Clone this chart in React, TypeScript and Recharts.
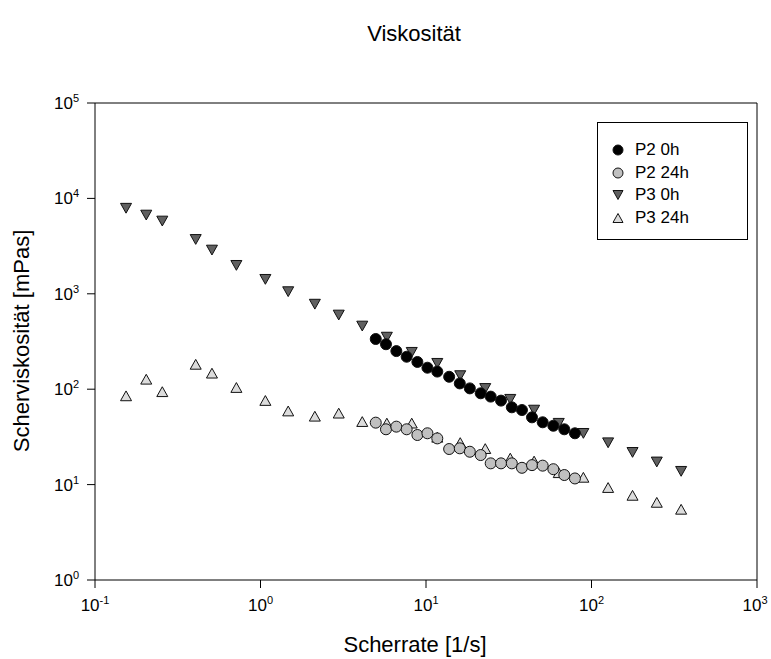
import { ScatterChart, Scatter, XAxis, YAxis, ReferenceLine } from "recharts";

const FONT = '"Liberation Sans", Arial, sans-serif';

// P3 shear rates and viscosities
const p3Rate = [0.154, 0.204, 0.255, 0.406, 0.509, 0.715, 1.07, 1.47, 2.13, 2.97, 4.12, 5.8, 8.2, 11.7, 16.1, 22.8, 32.3, 45, 63.4, 89.3, 126, 177, 248, 348];
const p3Visc0h = [7900, 6700, 5800, 3720, 2880, 1990, 1420, 1055, 780, 600, 460, 352, 244, 187, 139, 102, 78.5, 60.5, 44, 34.5, 27.5, 21.8, 17.3, 13.8];
const p3Visc24h = [85, 127, 94, 182, 147, 104, 76, 59, 52, 56, 45.7, 44, 44, 31.3, 27.5, 23.8, 18.9, 17.6, 13.3, 11.9, 9.3, 7.7, 6.5, 5.5];

// P2 shear rates and viscosities
const p2Rate = [4.97, 5.73, 6.62, 7.64, 8.87, 10.2, 11.7, 13.8, 16.0, 18.4, 21.4, 24.6, 28.4, 33, 38, 43.7, 50.7, 58.8, 68.5, 79.4];
const p2Visc0h = [336, 296, 251, 219, 193, 168, 153, 135, 115, 102, 90.6, 83.6, 75.9, 64.6, 60.5, 50.7, 45, 41.4, 38, 34.5];
const p2Visc24h = [44.6, 38, 40.5, 38, 33.1, 34.5, 30.5, 23.6, 24, 22.1, 20.4, 16.7, 16.7, 16.7, 15, 16, 15.8, 14.5, 12.6, 11.6];

const xTicks = [0.1, 1, 10, 100, 1000];
const yTicks = [1, 10, 100, 1000, 10000, 100000];
const seriesNames = ["P2 0h", "P2 24h", "P3 0h", "P3 24h"];

const zip = (xs: number[], ys: number[]) => xs.map((x, i) => ({ x, y: ys[i] }));

const circle = (fill: string) => (p: any) => (
  <circle cx={p.cx} cy={p.cy} r={5.5} fill={fill} stroke="#111" strokeWidth={1} />
);
const triDown = (fill: string) => (p: any) => (
  <polygon
    points={`${p.cx - 5.5},${p.cy - 4.8} ${p.cx + 5.5},${p.cy - 4.8} ${p.cx},${p.cy + 5}`}
    fill={fill}
    stroke="#111"
    strokeWidth={1}
  />
);
const triUp = (fill: string) => (p: any) => (
  <polygon
    points={`${p.cx - 5.5},${p.cy + 4.8} ${p.cx + 5.5},${p.cy + 4.8} ${p.cx},${p.cy - 5}`}
    fill={fill}
    stroke="#111"
    strokeWidth={1}
  />
);

const expOf = (v: number) => Math.round(Math.log10(v));

const XTick = ({ x, y, payload }: any) => (
  <text x={x} y={y + 21} textAnchor="middle" fontFamily={FONT} fontSize={17} fill="#000">
    10<tspan fontSize={11} dy={-7}>{expOf(payload.value)}</tspan>
  </text>
);

const YTick = ({ x, y, payload }: any) => (
  <text x={x - 6} y={y + 6} textAnchor="end" fontFamily={FONT} fontSize={17} fill="#000">
    10<tspan fontSize={11} dy={-7}>{expOf(payload.value)}</tspan>
  </text>
);

const legendShapes = [
  <circle cx={8} cy={8} r={5} fill="#000" stroke="#111" />,
  <circle cx={8} cy={8} r={5} fill="#c0c0c0" stroke="#111" />,
  <polygon points="3,3.5 13,3.5 8,12.5" fill="#606060" stroke="#111" />,
  <polygon points="3,12.5 13,12.5 8,3.5" fill="#dcdcdc" stroke="#111" />,
];

export default function App() {
  return (
    <div style={{ position: "absolute", left: 0, top: 0, width: 771, height: 659, background: "#fff", fontFamily: FONT }}>
      <div style={{ position: "absolute", left: 0, width: 828, top: 21, textAlign: "center", fontSize: 22 }}>Viskosität</div>
      <div style={{ position: "absolute", left: 0, width: 830, top: 632, textAlign: "center", fontSize: 22 }}>Scherrate [1/s]</div>
      <div
        style={{
          position: "absolute",
          left: 22,
          top: 341,
          transform: "translate(-50%, -50%) rotate(-90deg)",
          whiteSpace: "nowrap",
          fontSize: 22,
        }}
      >
        Scherviskosität [mPas]
      </div>

      <ScatterChart width={771} height={659} margin={{ top: 103, right: 14, bottom: 0, left: 0 }}>
        <XAxis
          dataKey="x"
          type="number"
          scale="log"
          domain={[0.1, 1000]}
          ticks={xTicks}
          allowDataOverflow
          height={79}
          tickSize={8}
          axisLine={{ stroke: "#000" }}
          tickLine={{ stroke: "#000" }}
          tick={<XTick />}
        />
        <YAxis
          dataKey="y"
          type="number"
          scale="log"
          domain={[1, 100000]}
          ticks={yTicks}
          allowDataOverflow
          width={95}
          tickSize={8}
          axisLine={{ stroke: "#000" }}
          tickLine={{ stroke: "#000" }}
          tick={<YTick />}
        />
        <ReferenceLine x={1000} stroke="#000" />
        <ReferenceLine y={100000} stroke="#000" />
        <Scatter name="P3 24h" data={zip(p3Rate, p3Visc24h)} shape={triUp("#dcdcdc")} isAnimationActive={false} />
        <Scatter name="P3 0h" data={zip(p3Rate, p3Visc0h)} shape={triDown("#606060")} isAnimationActive={false} />
        <Scatter name="P2 24h" data={zip(p2Rate, p2Visc24h)} shape={circle("#c0c0c0")} isAnimationActive={false} />
        <Scatter name="P2 0h" data={zip(p2Rate, p2Visc0h)} shape={circle("#000")} isAnimationActive={false} />
      </ScatterChart>

      <div
        style={{
          position: "absolute",
          left: 597,
          top: 122,
          width: 151,
          height: 118,
          border: "1px solid #000",
          boxSizing: "border-box",
          paddingTop: 16,
          fontSize: 17,
        }}
      >
        {seriesNames.map((n, i) => (
          <div key={n} style={{ display: "flex", alignItems: "center", height: 22.5 }}>
            <svg width={16} height={16} style={{ marginLeft: 12, marginRight: 9 }}>
              {legendShapes[i]}
            </svg>
            <span>{n}</span>
          </div>
        ))}
      </div>
    </div>
  );
}
